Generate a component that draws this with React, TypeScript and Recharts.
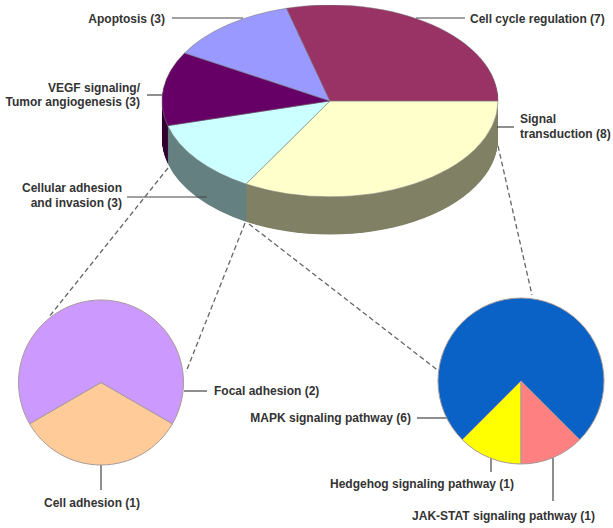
import { PieChart, Pie, Cell } from "recharts";

// overview pie
const mainNames = ["Signal transduction", "Cellular adhesion and invasion", "VEGF signaling/Tumor angiogenesis", "Apoptosis", "Cell cycle regulation"];
const mainValues = [8, 3, 3, 3, 7];
const mainTop = ["#FFFFCC", "#CCFFFF", "#660066", "#9999FF", "#993366"];
const mainSide = ["#808066", "#668080", "#330033", "#4D4D80", "#4D1A33"];

// cellular adhesion breakdown
const adhesionNames = ["Cell adhesion", "Focal adhesion"];
const adhesionValues = [1, 2];
const adhesionColors = ["#FFCC99", "#CC99FF"];

// signal transduction breakdown
const signalNames = ["Hedgehog signaling pathway", "JAK-STAT signaling pathway", "MAPK signaling pathway"];
const signalValues = [1, 1, 6];
const signalColors = ["#FFFF00", "#FF8080", "#0A62C6"];

const toRows = (names: string[], values: number[]) =>
  names.map((name, i) => ({ name, value: values[i] }));

const mainData = toRows(mainNames, mainValues);
const adhesionData = toRows(adhesionNames, adhesionValues);
const signalData = toRows(signalNames, signalValues);

const RADIUS = 168;
const TILT = 0.571;
const DEPTH = 66;
const wallOffsets = Array.from({ length: DEPTH }, (_, i) => DEPTH - i);

const labels = [
  { text: "Apoptosis (3)", x: 165, y: 19, anchor: "end" },
  { text: "Cell cycle regulation (7)", x: 470, y: 19, anchor: "start" },
  { text: "VEGF signaling/", x: 140, y: 88, anchor: "end" },
  { text: "Tumor angiogenesis (3)", x: 140, y: 102, anchor: "end" },
  { text: "Signal", x: 520, y: 119, anchor: "start" },
  { text: "transduction (8)", x: 520, y: 134, anchor: "start" },
  { text: "Cellular adhesion", x: 122, y: 188, anchor: "end" },
  { text: "and invasion (3)", x: 122, y: 203, anchor: "end" },
  { text: "Focal adhesion (2)", x: 214, y: 391, anchor: "start" },
  { text: "MAPK signaling pathway (6)", x: 411, y: 418, anchor: "end" },
  { text: "Hedgehog signaling pathway (1)", x: 514, y: 484, anchor: "end" },
  { text: "Cell adhesion (1)", x: 44, y: 503, anchor: "start" },
  { text: "JAK-STAT signaling pathway (1)", x: 595, y: 516, anchor: "end" },
];

const leaders = [
  [172, 18, 243, 18],
  [416, 18, 465, 18],
  [147, 95, 162, 95],
  [497, 127, 514, 127],
  [127, 197, 207, 197],
  [184, 391, 207, 391],
  [417, 418, 447, 418],
  [101, 465, 101, 490],
  [491, 457, 491, 472],
  [553, 457, 553, 501],
];

const dashes = [
  [168, 168, 49, 317],
  [245, 223, 186, 372],
  [249, 224, 440, 372],
  [498, 146, 532, 295],
];

const App = () => {
  return (
    <div style={{ position: "absolute", left: 0, top: 0, width: 613, height: 528, background: "#fff", overflow: "hidden" }}>
      <div style={{ position: "absolute", left: 160, top: 5, transform: `scaleY(${TILT})`, transformOrigin: "0 0" }}>
        <PieChart width={340} height={RADIUS * 2 + DEPTH + 6} margin={{ top: 0, right: 0, bottom: 0, left: 0 }}>
          {wallOffsets.map((offset) => (
            <Pie
              key={offset}
              data={mainData}
              dataKey="value"
              nameKey="name"
              cx={170}
              cy={RADIUS + offset}
              outerRadius={RADIUS}
              startAngle={0}
              endAngle={-360}
              stroke="none"
              isAnimationActive={false}
            >
              {mainData.map((row, i) => (
                <Cell key={row.name} fill={mainSide[i]} />
              ))}
            </Pie>
          ))}
          <Pie
            data={mainData}
            dataKey="value"
            nameKey="name"
            cx={170}
            cy={RADIUS}
            outerRadius={RADIUS}
            startAngle={0}
            endAngle={-360}
            stroke="#7f7f7f"
            strokeWidth={0.7}
            isAnimationActive={false}
          >
            {mainData.map((row, i) => (
              <Cell key={row.name} fill={mainTop[i]} />
            ))}
          </Pie>
        </PieChart>
      </div>

      <div style={{ position: "absolute", left: 0, top: 0 }}>
        <PieChart width={613} height={528} margin={{ top: 0, right: 0, bottom: 0, left: 0 }}>
          <Pie
            data={adhesionData}
            dataKey="value"
            nameKey="name"
            cx={101}
            cy={382.5}
            outerRadius={82.5}
            startAngle={210}
            endAngle={570}
            stroke="#a89a9a"
            strokeWidth={1}
            isAnimationActive={false}
          >
            {adhesionData.map((row, i) => (
              <Cell key={row.name} fill={adhesionColors[i]} />
            ))}
          </Pie>
          <Pie
            data={signalData}
            dataKey="value"
            nameKey="name"
            cx={521}
            cy={381}
            outerRadius={83}
            startAngle={225}
            endAngle={585}
            stroke="#a89a9a"
            strokeWidth={1}
            isAnimationActive={false}
          >
            {signalData.map((row, i) => (
              <Cell key={row.name} fill={signalColors[i]} />
            ))}
          </Pie>
          {leaders.map(([x1, y1, x2, y2]) => (
            <line key={`${x1}-${y1}`} x1={x1} y1={y1} x2={x2} y2={y2} stroke="#444" strokeWidth={1.2} />
          ))}
          {dashes.map(([x1, y1, x2, y2]) => (
            <line key={`${x1}-${y1}`} x1={x1} y1={y1} x2={x2} y2={y2} stroke="#666" strokeWidth={1.3} strokeDasharray="5 3" />
          ))}
          {labels.map((l) => (
            <text
              key={l.text}
              x={l.x}
              y={l.y + 4}
              textAnchor={l.anchor as "start" | "end"}
              fontFamily="'Liberation Sans', Arial, sans-serif"
              fontWeight="bold"
              fontSize={12}
              fill="#333"
            >
              {l.text}
            </text>
          ))}
        </PieChart>
      </div>
    </div>
  );
};

export default App;
